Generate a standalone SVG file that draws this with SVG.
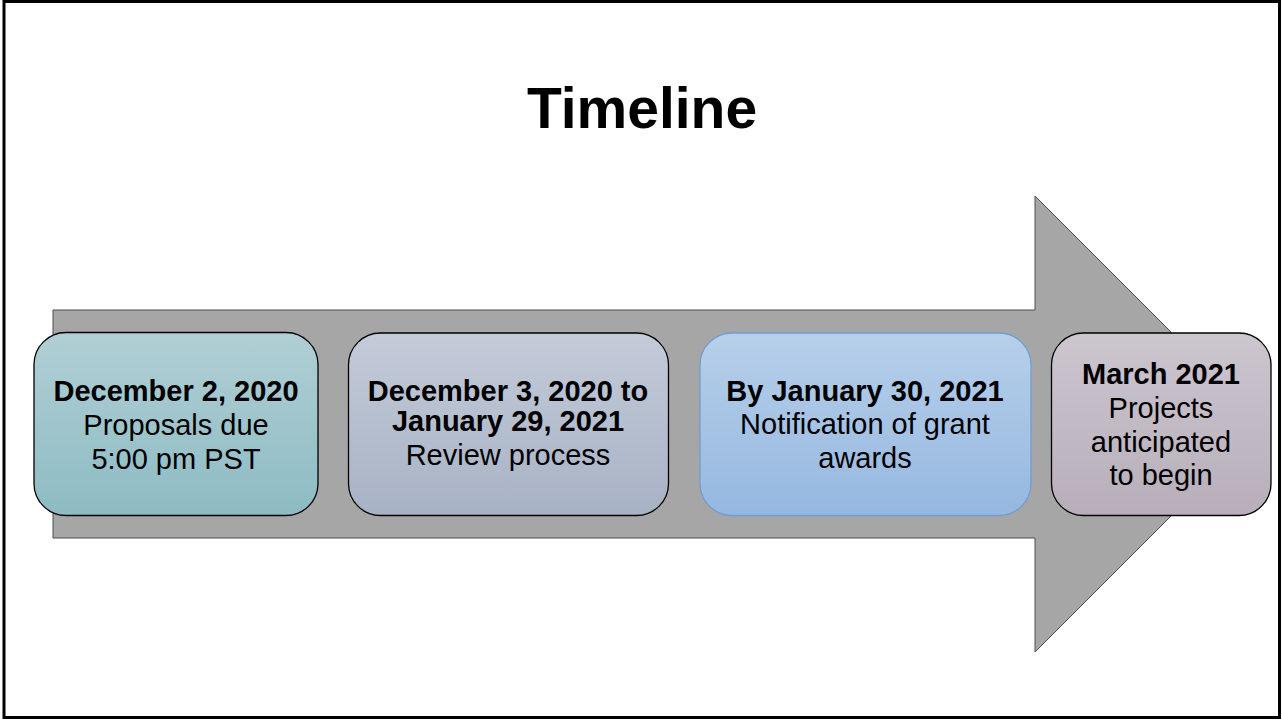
<svg xmlns="http://www.w3.org/2000/svg" width="1282" height="720" viewBox="0 0 1282 720">
<defs>
<linearGradient id="g1" x1="0" y1="0" x2="0" y2="1"><stop offset="0" stop-color="#b1cfd5"/><stop offset="1" stop-color="#8dbbc3"/></linearGradient>
<linearGradient id="g2" x1="0" y1="0" x2="0" y2="1"><stop offset="0" stop-color="#c4cbd9"/><stop offset="1" stop-color="#a7b2c4"/></linearGradient>
<linearGradient id="g3" x1="0" y1="0" x2="0" y2="1"><stop offset="0" stop-color="#b7cfea"/><stop offset="1" stop-color="#95b8e0"/></linearGradient>
<linearGradient id="g4" x1="0" y1="0" x2="0" y2="1"><stop offset="0" stop-color="#ccc6cf"/><stop offset="1" stop-color="#b7aeba"/></linearGradient>
</defs>
<style>
text{font-family:"Liberation Sans",Arial,sans-serif;fill:#000;text-anchor:middle}
.b{font-weight:bold;font-size:29px}
.n{font-size:29px}
.box{stroke:#000;stroke-width:1.3}
</style>
<rect x="4" y="1.5" width="1275.5" height="716" fill="#fff" stroke="#000" stroke-width="3"/>
<text x="642" y="128" style="font-size:57px;font-weight:bold">Timeline</text>
<g id="connectors">
<polygon points="53,310 1035,310 1035,196 1263,424 1035,652 1035,538 53,538" fill="#a6a6a6" stroke="#4d4d4d" stroke-width="1"/>
</g>
<g id="node1">
<rect class="box" x="34" y="332.5" width="284" height="183" rx="32" fill="url(#g1)"/>
<text class="b" x="176" y="401">December 2, 2020</text>
<text class="n" x="176" y="435">Proposals due</text>
<text class="n" x="176" y="469">5:00 pm PST</text>
</g>
<g id="node2">
<rect class="box" x="348.5" y="333" width="320" height="182.5" rx="32" fill="url(#g2)"/>
<text class="b" x="508" y="401">December 3, 2020 to</text>
<text class="b" x="508" y="431">January 29, 2021</text>
<text class="n" x="508" y="465">Review process</text>
</g>
<g id="node3">
<rect x="700" y="333" width="331" height="182.5" rx="32" fill="url(#g3)" stroke="#6f9dd3" stroke-width="1.3"/>
<text class="b" x="865" y="401">By January 30, 2021</text>
<text class="n" x="865" y="434">Notification of grant</text>
<text class="n" x="865" y="468">awards</text>
</g>
<g id="node4">
<rect class="box" x="1051.5" y="333" width="219.5" height="182.5" rx="32" fill="url(#g4)"/>
<text class="b" x="1161" y="384">March 2021</text>
<text class="n" x="1161" y="418">Projects</text>
<text class="n" x="1161" y="452">anticipated</text>
<text class="n" x="1161" y="485">to begin</text>
</g>
</svg>
